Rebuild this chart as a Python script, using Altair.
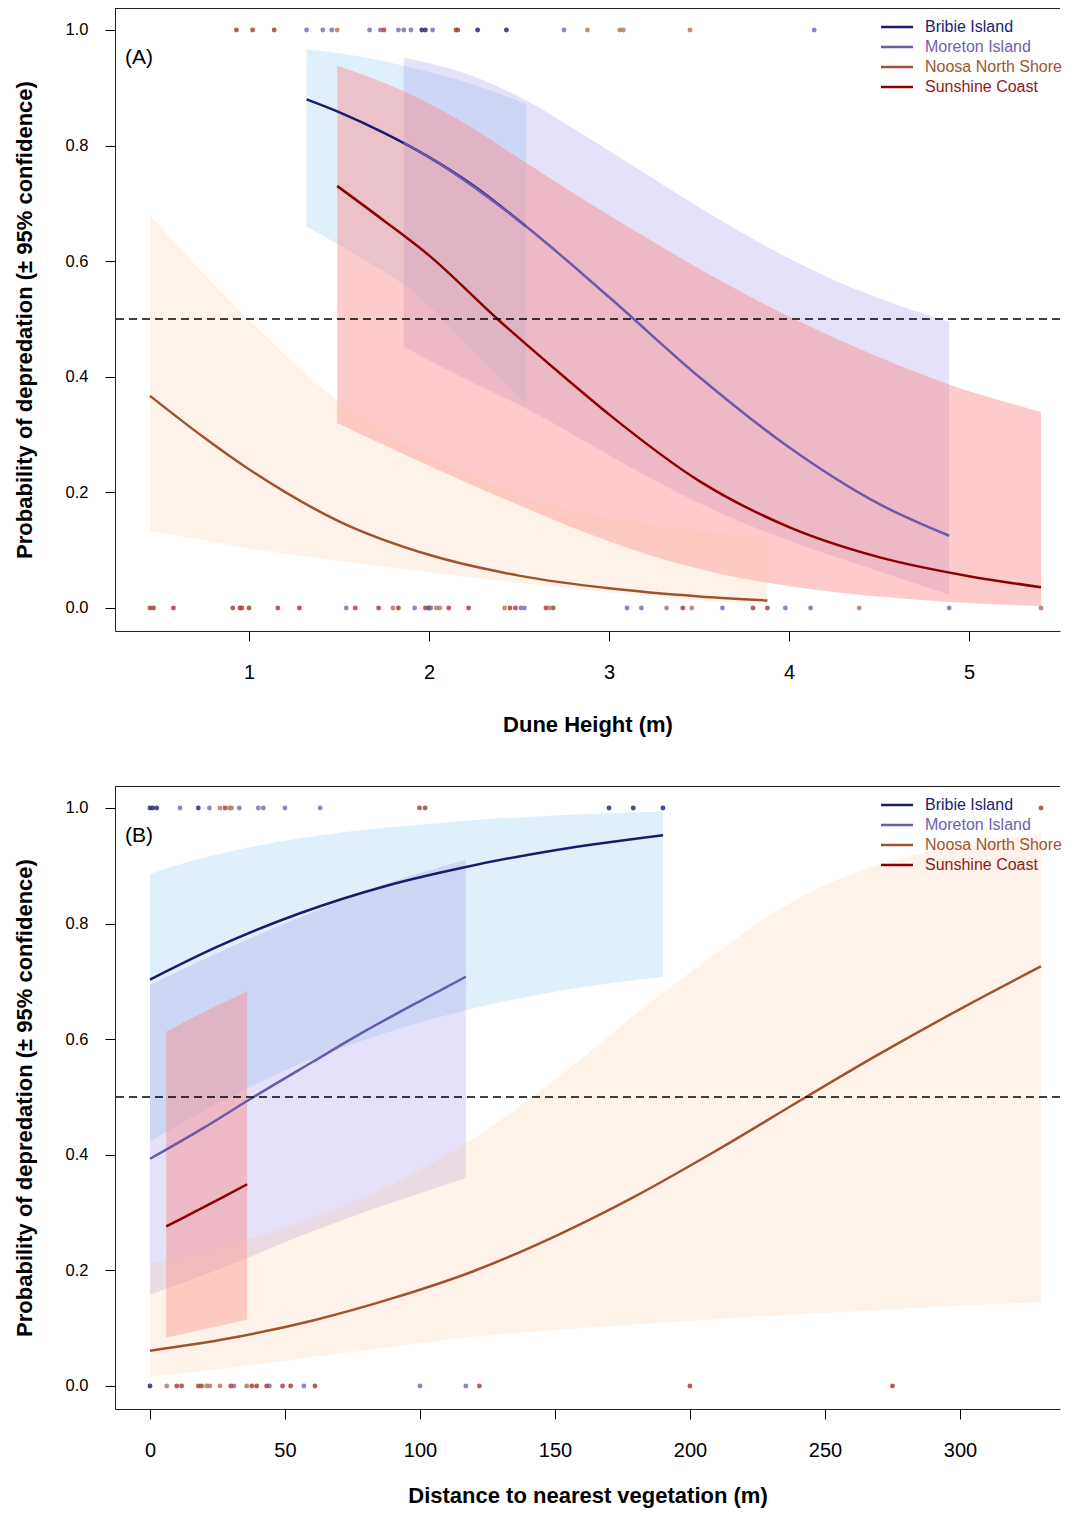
import altair as alt
import pandas as pd

SITES = ["Bribie Island", "Moreton Island", "Noosa North Shore", "Sunshine Coast"]
LINE_COLORS = ["#1b1b6e", "#6a5aaa", "#a0522d", "#8b0000"]
TEXT_COLORS = ["#1c1c72", "#6e62ae", "#a0552f", "#8e1a1a"]
BAND_COLORS = ["#8fc8f0", "#a295e6", "#ffc39a", "#fa8282"]
BAND_OPACITY = [0.28, 0.28, 0.22, 0.42]
POINT_COLORS = ["#2a2a7a", "#7a72b6", "#a8443c", "#b07d62"]

# ---------------- Panel A : dune height ----------------
A_BRIBIE_X = [1.32, 1.5, 1.75, 2.0, 2.25, 2.54]
A_BRIBIE_P = [0.88, 0.858, 0.822, 0.78, 0.73, 0.66]
A_MORETON_X = [1.86, 2.0, 2.5, 3.0, 3.5, 4.0, 4.5, 4.89]
A_MORETON_P = [0.805, 0.78, 0.67, 0.538, 0.40, 0.278, 0.18, 0.125]
A_NOOSA_X = [0.45, 0.75, 1.0, 1.5, 2.0, 2.5, 3.0, 3.5, 3.88]
A_NOOSA_P = [0.367, 0.295, 0.24, 0.15, 0.092, 0.056, 0.034, 0.020, 0.013]
A_SUNSHINE_X = [1.49, 1.75, 2.0, 2.38, 2.75, 3.0, 3.5, 4.0, 4.5, 5.0, 5.4]
A_SUNSHINE_P = [0.73, 0.67, 0.61, 0.50, 0.40, 0.335, 0.22, 0.14, 0.088, 0.055, 0.036]

A_BRIBIE_BX = [1.32, 1.6, 1.9, 2.2, 2.54]
A_BRIBIE_LO = [0.659, 0.61, 0.55, 0.46, 0.352]
A_BRIBIE_HI = [0.966, 0.955, 0.935, 0.91, 0.872]
A_MORETON_BX = [1.86, 2.2, 2.54, 2.84, 3.21, 3.58, 3.95, 4.32, 4.89]
A_MORETON_LO = [0.452, 0.396, 0.345, 0.293, 0.228, 0.170, 0.122, 0.082, 0.023]
A_MORETON_HI = [0.952, 0.925, 0.878, 0.822, 0.75, 0.678, 0.613, 0.558, 0.495]
A_NOOSA_BX = [0.45, 0.8, 1.1, 1.4, 1.7, 2.0, 2.4, 2.84, 3.4, 3.88]
A_NOOSA_LO = [0.133, 0.114, 0.098, 0.086, 0.073, 0.062, 0.047, 0.032, 0.016, 0.006]
A_NOOSA_HI = [0.68, 0.561, 0.468, 0.382, 0.315, 0.262, 0.207, 0.165, 0.137, 0.123]
A_SUNSHINE_BX = [1.49, 1.86, 2.2, 2.5, 2.84, 3.21, 3.58, 3.95, 4.32, 4.87, 5.4]
A_SUNSHINE_LO = [0.32, 0.266, 0.218, 0.178, 0.134, 0.093, 0.062, 0.040, 0.025, 0.011, 0.003]
A_SUNSHINE_HI = [0.938, 0.894, 0.838, 0.778, 0.71, 0.64, 0.573, 0.512, 0.458, 0.389, 0.339]

A_TOP_BRIBIE = [1.96, 1.98, 2.27, 2.43]
A_TOP_MORETON = [1.32, 1.41, 1.46, 1.67, 1.73, 1.83, 1.86, 1.90, 2.02, 2.75, 4.14]
A_TOP_NOOSA = [0.93, 1.02, 1.14, 1.75, 2.15, 2.16]
A_TOP_SUNSHINE = [1.49, 2.88, 3.06, 3.08, 3.45]
A_BOT_BRIBIE = [2.00]
A_BOT_MORETON = [1.54, 1.92, 2.01, 2.51, 2.53, 3.10, 3.18, 3.63, 3.98, 4.12, 4.89]
A_BOT_NOOSA = [0.45, 0.47, 0.58, 0.91, 0.95, 0.96, 1.00, 1.16, 1.28, 1.59, 1.72, 1.83,
               1.98, 2.11, 2.22, 2.45, 2.48, 2.65, 2.69, 3.41, 3.80, 3.88]
A_BOT_SUNSHINE = [1.80, 2.04, 2.06, 2.42, 2.67, 3.32, 3.46, 4.39, 5.40]

# ---------------- Panel B : distance to vegetation ----------------
B_BRIBIE_X = [0, 25, 55, 88, 117, 150, 190]
B_BRIBIE_P = [0.703, 0.76, 0.817, 0.866, 0.898, 0.927, 0.953]
B_MORETON_X = [0, 20, 37, 60, 77, 100, 117]
B_MORETON_P = [0.393, 0.447, 0.496, 0.56, 0.607, 0.666, 0.708]
B_NOOSA_X = [0, 30, 60, 90, 120, 150, 180, 210, 243, 270, 300, 330]
B_NOOSA_P = [0.061, 0.083, 0.113, 0.152, 0.199, 0.259, 0.329, 0.408, 0.50, 0.574, 0.652, 0.726]
B_SUNSHINE_X = [6, 16, 26, 36]
B_SUNSHINE_P = [0.276, 0.30, 0.324, 0.349]

B_BRIBIE_BX = [0, 15, 33, 55, 88, 117, 150, 190]
B_BRIBIE_LO = [0.423, 0.463, 0.508, 0.556, 0.612, 0.65, 0.682, 0.708]
B_BRIBIE_HI = [0.886, 0.908, 0.928, 0.947, 0.966, 0.978, 0.987, 0.994]
B_MORETON_BX = [0, 30, 55, 85, 117]
B_MORETON_LO = [0.158, 0.21, 0.258, 0.31, 0.36]
B_MORETON_HI = [0.694, 0.76, 0.81, 0.865, 0.91]
B_NOOSA_BX = [0, 30, 60, 90, 117, 150, 185, 210, 235, 260, 280, 305, 330]
B_NOOSA_LO = [0.016, 0.032, 0.05, 0.068, 0.084, 0.097, 0.108, 0.116, 0.123, 0.129, 0.134, 0.140, 0.145]
B_NOOSA_HI = [0.211, 0.245, 0.29, 0.35, 0.42, 0.53, 0.662, 0.75, 0.83, 0.886, 0.915, 0.94, 0.955]
B_SUNSHINE_BX = [6, 21, 36]
B_SUNSHINE_LO = [0.084, 0.099, 0.115]
B_SUNSHINE_HI = [0.613, 0.649, 0.683]

B_TOP_BRIBIE = [0, 1, 2.5, 17.9, 170, 179, 190]
B_TOP_MORETON = [11.1, 22, 33.1, 40.1, 42, 50, 63]
B_TOP_NOOSA = [27.8, 99.8, 101.9, 330]
B_TOP_SUNSHINE = [25.9, 29.4, 30.2]
B_BOT_BRIBIE = [0]
B_BOT_MORETON = [31.1, 44.2, 57, 100, 117]
B_BOT_NOOSA = [9.9, 11.7, 17.9, 19.1, 29.9, 37.7, 39.5, 43.2, 49.1, 52.1, 61.1, 122, 200, 275]
B_BOT_SUNSHINE = [6.2, 21, 22.2, 25.9, 35.8]

Y_TICKS = [0.0, 0.2, 0.4, 0.6, 0.8, 1.0]
A_X_TICKS = [1, 2, 3, 4, 5]
B_X_TICKS = [0, 50, 100, 150, 200, 250, 300]
Y_TITLE = "Probability of depredation (\u00b1 95% confidence)"

W, H = 945, 623
FONT = "Liberation Sans"
FRAME = "#222222"


def points_df(top, bot):
    rows = []
    for site, xs in zip(SITES, top):
        rows += [{"site": site, "x": v, "y": 1.0} for v in xs]
    for site, xs in zip(SITES, bot):
        rows += [{"site": site, "x": v, "y": 0.0} for v in xs]
    return pd.DataFrame(rows)


def panel(label, xdomain, xticks, xtitle, xtitlepad, bands, lines, pts):
    xs = alt.Scale(domain=xdomain, nice=False, zero=False)
    ys = alt.Scale(domain=[-0.0398, 1.038], nice=False, zero=False)
    xax = alt.Axis(values=xticks, format="d", title=xtitle, titlePadding=xtitlepad)
    yax = alt.Axis(values=Y_TICKS, format=".1f", title=Y_TITLE)
    layers = []
    # band drawing order: Bribie, Moreton, Sunshine, Noosa
    for i in [0, 1, 3, 2]:
        bx, lo, hi = bands[i]
        df = pd.DataFrame({"x": bx, "lo": lo, "hi": hi})
        layers.append(
            alt.Chart(df).mark_area(color=BAND_COLORS[i], opacity=BAND_OPACITY[i],
                                    interpolate="monotone")
            .encode(x=alt.X("x:Q", scale=xs, axis=xax),
                    y=alt.Y("lo:Q", scale=ys, axis=yax),
                    y2="hi:Q")
        )
    for i in [0, 2, 3, 1]:
        lx, lp = lines[i]
        df = pd.DataFrame({"x": lx, "p": lp})
        layers.append(
            alt.Chart(df).mark_line(color=LINE_COLORS[i], strokeWidth=2.5,
                                    interpolate="monotone")
            .encode(x=alt.X("x:Q", scale=xs, axis=xax),
                    y=alt.Y("p:Q", scale=ys, axis=yax))
        )
    layers.append(
        alt.Chart(pts).mark_circle(size=24, opacity=0.85)
        .encode(x=alt.X("x:Q", scale=xs, axis=xax),
                y=alt.Y("y:Q", scale=ys, axis=yax),
                color=alt.Color("site:N", scale=alt.Scale(domain=SITES, range=POINT_COLORS),
                                legend=None))
    )
    layers.append(
        alt.Chart(pd.DataFrame({"h": [0.5]})).mark_rule(color="#000000", strokeWidth=1.4,
                                                        strokeDash=[8, 5])
        .encode(y=alt.Y("h:Q", scale=ys, axis=yax))
    )
    # top edge of the plot frame (right edge lies outside the picture in the original)
    layers.append(
        alt.Chart(pd.DataFrame({"f": [0]})).mark_rule(color=FRAME, strokeWidth=1)
        .encode(x=alt.value(0), x2=alt.value(W), y=alt.value(0.5))
    )
    for i, site in enumerate(SITES):
        yy = 19 + 20 * i
        layers.append(
            alt.Chart(pd.DataFrame({"s": [site]})).mark_rule(color=LINE_COLORS[i], strokeWidth=2.5)
            .encode(x=alt.value(766), x2=alt.value(798), y=alt.value(yy))
        )
        layers.append(
            alt.Chart(pd.DataFrame({"s": [site]})).mark_text(
                align="left", baseline="middle", fontSize=16, font=FONT,
                color=TEXT_COLORS[i])
            .encode(x=alt.value(810), y=alt.value(yy), text="s:N")
        )
    layers.append(
        alt.Chart(pd.DataFrame({"t": [label]})).mark_text(
            align="left", baseline="middle", fontSize=21, font=FONT, color="black")
        .encode(x=alt.value(10), y=alt.value(50), text="t:N")
    )
    return alt.layer(*layers).properties(width=W, height=H)


panelA = panel(
    "(A)", [0.2556, 0.2556 + W / 180.0], A_X_TICKS, "Dune Height (m)", 32,
    [(A_BRIBIE_BX, A_BRIBIE_LO, A_BRIBIE_HI), (A_MORETON_BX, A_MORETON_LO, A_MORETON_HI),
     (A_NOOSA_BX, A_NOOSA_LO, A_NOOSA_HI), (A_SUNSHINE_BX, A_SUNSHINE_LO, A_SUNSHINE_HI)],
    [(A_BRIBIE_X, A_BRIBIE_P), (A_MORETON_X, A_MORETON_P),
     (A_NOOSA_X, A_NOOSA_P), (A_SUNSHINE_X, A_SUNSHINE_P)],
    points_df([A_TOP_BRIBIE, A_TOP_MORETON, A_TOP_NOOSA, A_TOP_SUNSHINE],
              [A_BOT_BRIBIE, A_BOT_MORETON, A_BOT_NOOSA, A_BOT_SUNSHINE]),
)

panelB = panel(
    "(B)", [-12.96, -12.96 + W / 2.7], B_X_TICKS, "Distance to nearest vegetation (m)", 25,
    [(B_BRIBIE_BX, B_BRIBIE_LO, B_BRIBIE_HI), (B_MORETON_BX, B_MORETON_LO, B_MORETON_HI),
     (B_NOOSA_BX, B_NOOSA_LO, B_NOOSA_HI), (B_SUNSHINE_BX, B_SUNSHINE_LO, B_SUNSHINE_HI)],
    [(B_BRIBIE_X, B_BRIBIE_P), (B_MORETON_X, B_MORETON_P),
     (B_NOOSA_X, B_NOOSA_P), (B_SUNSHINE_X, B_SUNSHINE_P)],
    points_df([B_TOP_BRIBIE, B_TOP_MORETON, B_TOP_NOOSA, B_TOP_SUNSHINE],
              [B_BOT_BRIBIE, B_BOT_MORETON, B_BOT_NOOSA, B_BOT_SUNSHINE]),
)

chart = (
    alt.vconcat(panelA, panelB, spacing=51)
    .resolve_scale(x="independent", y="independent")
    .properties(padding={"left": 5, "top": 0, "right": 0, "bottom": 4})
    .configure_view(strokeWidth=0)
    .configure_axis(
        grid=False, domain=True, domainColor=FRAME, domainWidth=1,
        tickSize=10, tickColor="#000000", tickWidth=1,
        labelColor="#000000", titleColor="#000000", labelFont=FONT, titleFont=FONT,
        titleFontWeight="bold", titleFontSize=22,
    )
    .configure_axisX(labelFontSize=20, labelPadding=21)
    .configure_axisY(labelFontSize=16.5, labelPadding=17, titlePadding=29)
)

chart.save("out.html", embed_options={"renderer": "svg", "actions": False})
